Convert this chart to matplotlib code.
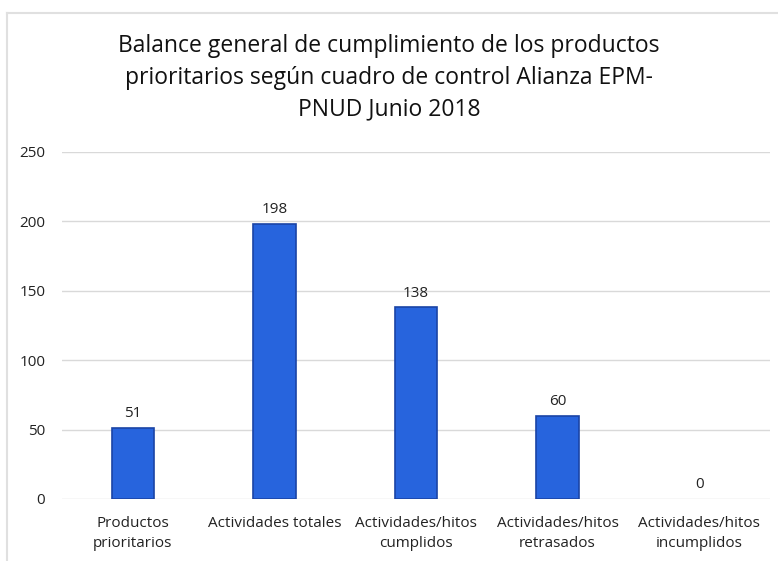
import matplotlib.pyplot as plt
from matplotlib.lines import Line2D

categories = ["Productos\nprioritarios", "Actividades totales", "Actividades/hitos\ncumplidos",
              "Actividades/hitos\nretrasados", "Actividades/hitos\nincumplidos"]
values = [51, 198, 138, 60, 0]
yticks = [0, 50, 100, 150, 200, 250]
title = "Balance general de cumplimiento de los productos\nprioritarios según cuadro de control Alianza EPM-\nPNUD Junio 2018"

plt.rcParams['font.family'] = ['Open Sans', 'DejaVu Sans']

fig = plt.figure(figsize=(7.78, 5.61), dpi=100)
ax = fig.add_axes([62/778, 62/561, (770-62)/778, (499-152)/561])

x = list(range(len(categories)))
bars = ax.bar(x, values, width=0.30, color='#2764DD', edgecolor='#1A44A6',
              linewidth=[1.2 if v > 0 else 0 for v in values], zorder=3)
for xi, v in zip(x, values):
    ax.text(xi, v + 5, str(v), ha='center', va='bottom', fontsize=11, color='#222222')

ax.set_xlim(-0.5, len(categories) - 0.5)
ax.set_ylim(0, 250)
ax.set_yticks(yticks)
ax.set_yticklabels([str(t) for t in yticks], fontsize=11, color='#222222')
ax.set_xticks(x)
ax.set_xticklabels(categories, fontsize=11, color='#222222', linespacing=1.5)
ax.tick_params(axis='x', length=0, pad=12)
ax.tick_params(axis='y', length=0, pad=12)
ax.grid(axis='y', color='#d9d9d9', linewidth=1.0, zorder=0)
for s in ax.spines.values():
    s.set_visible(False)

fig.text(0.5, 1 - 78/561, title, ha='center', va='center', fontsize=16.5, color='#111111', linespacing=1.42)

# chart border (left and top)
fig.add_artist(Line2D([7/778, 7/778], [0, 1 - 13/561], transform=fig.transFigure, color='#e0e0e0', linewidth=1.5))
fig.add_artist(Line2D([7/778, 1], [1 - 13/561, 1 - 13/561], transform=fig.transFigure, color='#e0e0e0', linewidth=1.5))

fig.savefig('out.png', dpi=100)
